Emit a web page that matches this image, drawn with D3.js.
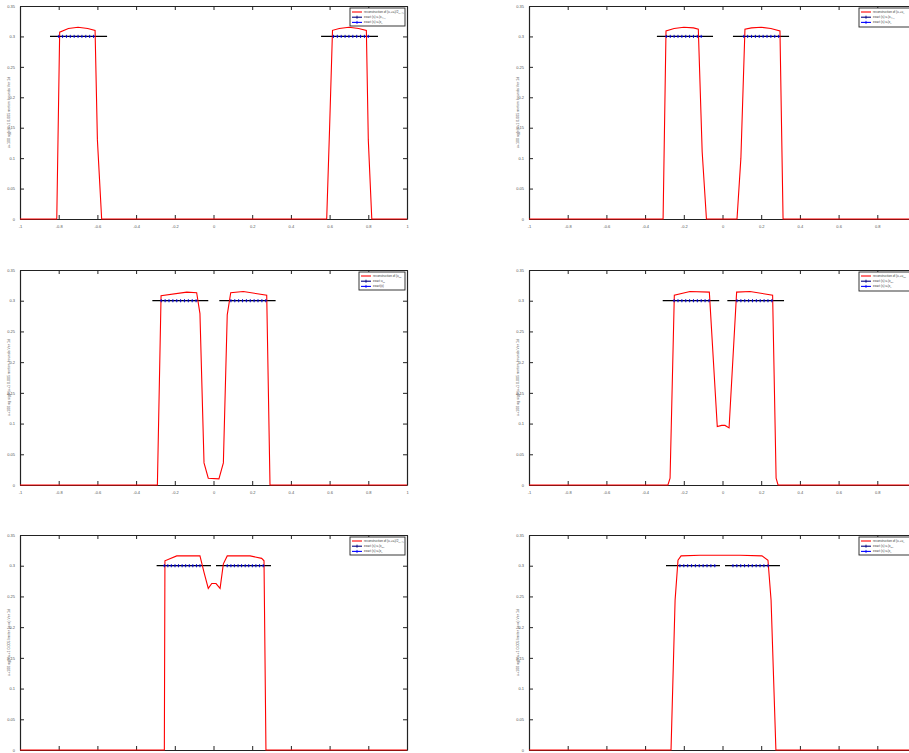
<!DOCTYPE html>
<html><head><meta charset="utf-8">
<script src="https://cdn.jsdelivr.net/npm/d3@7"></script>
<style>html,body{margin:0;padding:0;background:#fff;}svg{display:block;}</style>
</head><body>
<svg id="c" width="909" height="753"></svg>
<script>
// ---- ticks ----
const xTicks = [-1,-0.8,-0.6,-0.4,-0.2,0,0.2,0.4,0.6,0.8,1];
const xTickLabels = ["-1","-0.8","-0.6","-0.4","-0.2","0","0.2","0.4","0.6","0.8","1"];
const yTicks = [0,0.05,0.1,0.15,0.2,0.25,0.3,0.35];
const yTickLabels = ["0","0.05","0.1","0.15","0.2","0.25","0.3","0.35"];

// ---- panel 1 ----
const p1RedX = [-1,-0.81,-0.795,-0.75,-0.70,-0.65,-0.612,-0.60,-0.578,0.585,0.60,0.615,0.65,0.70,0.75,0.79,0.80,0.818,1];
const p1RedY = [0,0,0.307,0.313,0.315,0.313,0.310,0.13,0,0,0.15,0.310,0.313,0.315,0.313,0.310,0.13,0,0];
const p1Black = [[-0.845,-0.55],[0.556,0.85]];
const p1MarkX = [-0.80,-0.78,-0.76,-0.74,-0.72,-0.70,-0.68,-0.66,-0.64,-0.62,0.62,0.64,0.66,0.68,0.70,0.72,0.74,0.76,0.78,0.80];
const p1Legend = [["reconstruction of (u\u2097+u\u1d63)/2","(x+\u00bd)"],["exact (s) u\u2097(x","\u00bd+\u2097)"],["exact (s) u\u1d63(x","\u1d63)"]];
const p1YLabel = "u+100 ag(x)u+1 0.005 motion bounds Ver 1d";

// ---- panel 2 ----
const p2RedX = [-1,-0.307,-0.292,-0.25,-0.20,-0.15,-0.125,-0.105,-0.083,0.075,0.095,0.116,0.15,0.20,0.25,0.297,0.313,1];
const p2RedY = [0,0,0.309,0.313,0.315,0.314,0.312,0.11,0,0,0.10,0.312,0.314,0.315,0.313,0.309,0,0];
const p2Black = [[-0.339,-0.049],[0.054,0.344]];
const p2MarkX = [-0.29,-0.27,-0.25,-0.23,-0.21,-0.19,-0.17,-0.15,-0.13,-0.11,0.11,0.13,0.15,0.17,0.19,0.21,0.23,0.25,0.27,0.29];
const p2Legend = [["reconstruction of (u\u2097+u","\u1d63)"],["exact (s) u\u2097(x","\u00bd+\u2097)"],["exact (s) u\u1d63(x","\u1d63)"]];
const p2YLabel = "u+100 ag(x)u+1 0.005 motion bounds Ver 1d";

// ---- panel 3 ----
const p3RedX = [-1,-0.290,-0.271,-0.138,-0.087,-0.070,-0.049,-0.027,0.028,0.051,0.071,0.089,0.154,0.275,0.292,1];
const p3RedY = [0,0,0.308,0.314,0.313,0.279,0.036,0.011,0.010,0.036,0.277,0.313,0.315,0.309,0,0];
const p3Black = [[-0.316,-0.027],[0.030,0.321]];
const p3MarkX = [-0.27,-0.25,-0.23,-0.21,-0.19,-0.17,-0.15,-0.13,-0.11,-0.09,0.09,0.11,0.13,0.15,0.17,0.19,0.21,0.23,0.25,0.27];
const p3Legend = [["reconstruction of (u","\u1d63\u2091\u1d64)"],["exact u","\u1d63\u2091\u1d64"],["exact(x)",""]];
const p3YLabel = "u+100 ag sig(x)u+1 0.005 motion bounds Ver 1d";

// ---- panel 4 ----
const p4RedX = [-1,-0.282,-0.271,-0.249,-0.168,-0.068,-0.027,-0.004,0.013,0.034,0.073,0.142,0.259,0.277,0.287,1];
const p4RedY = [0,0,0.011,0.309,0.315,0.314,0.095,0.097,0.097,0.093,0.314,0.315,0.309,0.011,0,0];
const p4Black = [[-0.309,-0.017],[0.025,0.318]];
const p4MarkX = [-0.25,-0.23,-0.21,-0.19,-0.17,-0.15,-0.13,-0.11,-0.09,-0.07,0.075,0.095,0.115,0.135,0.155,0.175,0.195,0.215,0.235,0.255];
const p4Legend = [["reconstruction of (u\u2097+u","\u1d63\u2091\u1d64)"],["exact (s) u\u2097(x","\u1d63\u2091\u1d64)"],["exact (s) u\u1d63(x","\u1d63)"]];
const p4YLabel = "u+100 ag sig(x)u+1 0.005 motion bounds Ver 1d";

// ---- panel 5 ----
const p5RedX = [-1,-0.254,-0.251,-0.190,-0.070,-0.048,-0.027,-0.009,0.013,0.034,0.051,0.071,0.189,0.249,0.261,0.271,1];
const p5RedY = [0,0,0.308,0.316,0.316,0.288,0.263,0.271,0.271,0.263,0.303,0.316,0.316,0.312,0.308,0,0];
const p5Black = [[-0.294,-0.013],[0.013,0.297]];
const p5MarkX = [-0.254,-0.236,-0.218,-0.199,-0.181,-0.162,-0.144,-0.125,-0.107,-0.088,-0.070,0.071,0.090,0.108,0.127,0.145,0.164,0.182,0.201,0.219,0.238,0.257];
const p5Legend = [["reconstruction of (u\u2097+u\u1d63)/2","(x+\u00bd)"],["exact (s) u\u2097(x","\u1d63\u2091\u1d64)"],["exact (s) u\u1d63(x","\u1d63)"]];
const p5YLabel = "u+100 ag(x)u+1 0.005 limiter (a=a) Ver 1d";

// ---- panel 6 ----
const p6RedX = [-1,-0.266,-0.245,-0.230,-0.214,-0.116,0.090,0.204,0.235,0.251,0.276,1];
const p6RedY = [0,0,0.244,0.309,0.316,0.317,0.317,0.316,0.309,0.244,0,0];
const p6Black = [[-0.292,-0.013],[0.013,0.297]];
const p6MarkX = [-0.220,-0.200,-0.180,-0.160,-0.140,-0.120,-0.100,-0.080,-0.060,-0.040,0.054,0.074,0.094,0.114,0.134,0.154,0.174,0.194,0.214,0.235];
const p6Legend = [["reconstruction of (u\u2097+u","\u1d63)"],["exact (s) u\u2097(x","\u1d63\u2091\u1d64)"],["exact (s) u\u1d63(x","\u1d63)"]];
const p6YLabel = "u+100 ag(x)u+1 0.005 limiter (a=a) Ver 1d";

const W = 909;
const panels = [
  {redX:p1RedX, redY:p1RedY, black:p1Black, markX:p1MarkX, legend:p1Legend, ylab:p1YLabel, box:[20,407,6,219], leg:[350,8,55,18]},
  {redX:p2RedX, redY:p2RedY, black:p2Black, markX:p2MarkX, legend:p2Legend, ylab:p2YLabel, box:[529,916,6,219], leg:[859,8,60,19]},
  {redX:p3RedX, redY:p3RedY, black:p3Black, markX:p3MarkX, legend:p3Legend, ylab:p3YLabel, box:[20,407,270,485], leg:[359,272,46,18]},
  {redX:p4RedX, redY:p4RedY, black:p4Black, markX:p4MarkX, legend:p4Legend, ylab:p4YLabel, box:[529,916,270,485], leg:[859,272,60,19]},
  {redX:p5RedX, redY:p5RedY, black:p5Black, markX:p5MarkX, legend:p5Legend, ylab:p5YLabel, box:[20,407,535,750], leg:[350,537,55,18]},
  {redX:p6RedX, redY:p6RedY, black:p6Black, markX:p6MarkX, legend:p6Legend, ylab:p6YLabel, box:[529,916,535,750], leg:[859,537,60,18]}
];

const svg = d3.select("#c");
const FONT = "Liberation Sans, Arial, sans-serif";
const EXACT = 0.3;

panels.forEach(p => {
  const [x0,x1,y0,y1] = p.box;
  const x = d3.scaleLinear().domain([-1,1]).range([x0,x1]);
  const y = d3.scaleLinear().domain([0,0.35]).range([y1,y0]);
  const g = svg.append("g");

  const tl = 4;
  // only label ticks that are visible within the window
  const visTicks = xTicks.filter(v => x(v) <= W - 4);
  const axB = g.append("g").attr("transform",`translate(0,${y1})`)
    .call(d3.axisBottom(x).tickValues(xTicks).tickFormat(d => visTicks.includes(d) ? xTickLabels[xTicks.indexOf(d)] : "")
      .tickSizeInner(-tl).tickSizeOuter(0).tickPadding(6));
  const axT = g.append("g").attr("transform",`translate(0,${y0})`)
    .call(d3.axisTop(x).tickValues(xTicks).tickFormat("").tickSizeInner(-tl).tickSizeOuter(0));
  const axL = g.append("g").attr("transform",`translate(${x0},0)`)
    .call(d3.axisLeft(y).tickValues(yTicks).tickFormat((d,i)=>yTickLabels[i]).tickSizeInner(-tl).tickSizeOuter(0).tickPadding(5));
  const axR = g.append("g").attr("transform",`translate(${x1},0)`)
    .call(d3.axisRight(y).tickValues(yTicks).tickFormat("").tickSizeInner(-tl).tickSizeOuter(0));
  [axB,axT,axL,axR].forEach(a=>{
    a.selectAll("path.domain").attr("stroke","#222").attr("stroke-width",1.2);
    a.selectAll(".tick line").attr("stroke","#222").attr("stroke-width",1);
    a.selectAll("text").attr("font-size",4).attr("font-family",FONT).attr("fill","#555");
  });
  axB.selectAll("text").filter(function(){return this.textContent==="";}).remove();

  g.append("text")
    .attr("transform",`translate(${x0-10},${(y0+y1)/2}) rotate(-90)`)
    .attr("text-anchor","middle").attr("font-size",3.6).attr("font-family",FONT).attr("fill","#555")
    .text(p.ylab);

  p.black.forEach(s => {
    g.append("line").attr("x1",x(s[0])).attr("x2",x(s[1])).attr("y1",y(EXACT)).attr("y2",y(EXACT))
      .attr("stroke","#000").attr("stroke-width",1.2);
  });

  const pts = p.redX.map((v,i)=>[v,p.redY[i]]);
  g.append("path").datum(pts)
    .attr("d", d3.line().x(d=>x(d[0])).y(d=>y(d[1])))
    .attr("fill","none").attr("stroke","#ff0000").attr("stroke-width",1.1);

  const mk = g.append("g").attr("stroke","#0000cc").attr("stroke-width",0.9);
  p.markX.forEach(v => {
    mk.append("line").attr("x1",x(v)).attr("x2",x(v)).attr("y1",y(EXACT)-1.6).attr("y2",y(EXACT)+1.6);
    mk.append("line").attr("x1",x(v)-1.2).attr("x2",x(v)+1.2).attr("y1",y(EXACT)).attr("y2",y(EXACT));
  });

  const [lx,ly,lw,lh] = p.leg;
  const lg = g.append("g");
  lg.append("rect").attr("x",lx).attr("y",ly).attr("width",lw).attr("height",lh)
    .attr("fill","#fff").attr("stroke","#222").attr("stroke-width",0.9);
  const cols = ["#ff0000","#000080","#0000ff"];
  p.legend.forEach((t,i) => {
    const yy = ly + 4 + i*5.2;
    lg.append("line").attr("x1",lx+2).attr("x2",lx+12).attr("y1",yy).attr("y2",yy)
      .attr("stroke",cols[i]).attr("stroke-width",1.1);
    if (i>0) {
      lg.append("line").attr("x1",lx+7).attr("x2",lx+7).attr("y1",yy-1.5).attr("y2",yy+1.5)
        .attr("stroke",cols[i]).attr("stroke-width",0.9);
    }
    const tx = lg.append("text").attr("x",lx+14).attr("y",yy+1).attr("font-size",3).attr("font-family",FONT)
      .attr("fill","#333");
    tx.append("tspan").text(t[0]);
    if (t[1]) tx.append("tspan").attr("font-size",2.2).attr("dy",0.8).text(t[1]);
  });
});
</script>
</body></html>
